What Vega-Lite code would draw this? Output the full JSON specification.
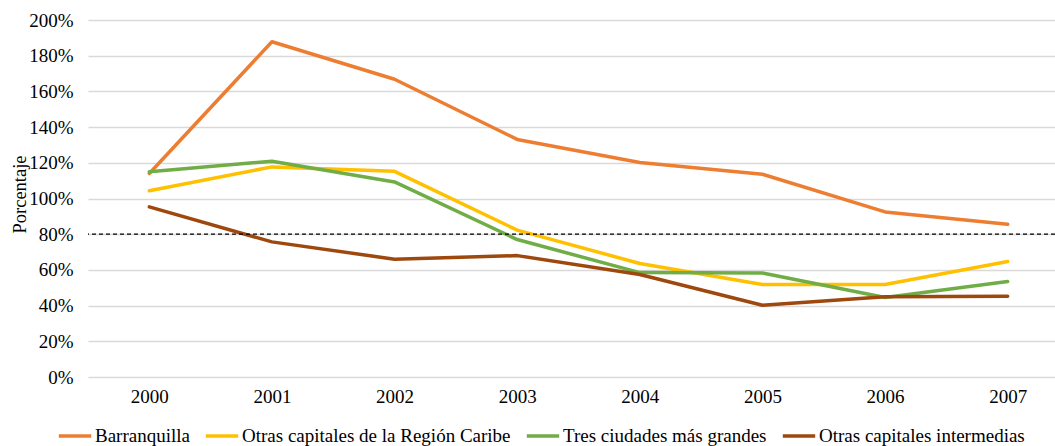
{
  "$schema": "https://vega.github.io/schema/vega-lite/v6.json",
  "autosize": {"type": "none"},
  "padding": {"left": 88, "top": 20, "right": 0, "bottom": 69},
  "width": 981,
  "height": 357,
  "background": "white",
  "config": {
    "view": {"stroke": null},
    "font": "Liberation Serif",
    "axis": {"labelFont": "Liberation Serif", "titleFont": "Liberation Serif", "labelColor": "#000000", "titleColor": "#000000"},
    "legend": {"labelFont": "Liberation Serif", "labelColor": "#000000"}
  },
  "data": {
    "values": [
      {"year": "2000", "serie": "Barranquilla", "value": 1.14},
      {"year": "2001", "serie": "Barranquilla", "value": 1.878},
      {"year": "2002", "serie": "Barranquilla", "value": 1.668},
      {"year": "2003", "serie": "Barranquilla", "value": 1.331},
      {"year": "2004", "serie": "Barranquilla", "value": 1.202},
      {"year": "2005", "serie": "Barranquilla", "value": 1.136},
      {"year": "2006", "serie": "Barranquilla", "value": 0.925},
      {"year": "2007", "serie": "Barranquilla", "value": 0.856},
      {"year": "2000", "serie": "Otras capitales de la Región Caribe", "value": 1.043},
      {"year": "2001", "serie": "Otras capitales de la Región Caribe", "value": 1.177},
      {"year": "2002", "serie": "Otras capitales de la Región Caribe", "value": 1.152},
      {"year": "2003", "serie": "Otras capitales de la Región Caribe", "value": 0.823},
      {"year": "2004", "serie": "Otras capitales de la Región Caribe", "value": 0.636},
      {"year": "2005", "serie": "Otras capitales de la Región Caribe", "value": 0.518},
      {"year": "2006", "serie": "Otras capitales de la Región Caribe", "value": 0.518},
      {"year": "2007", "serie": "Otras capitales de la Región Caribe", "value": 0.647},
      {"year": "2000", "serie": "Tres ciudades más grandes", "value": 1.15},
      {"year": "2001", "serie": "Tres ciudades más grandes", "value": 1.209},
      {"year": "2002", "serie": "Tres ciudades más grandes", "value": 1.093},
      {"year": "2003", "serie": "Tres ciudades más grandes", "value": 0.77},
      {"year": "2004", "serie": "Tres ciudades más grandes", "value": 0.585},
      {"year": "2005", "serie": "Tres ciudades más grandes", "value": 0.583},
      {"year": "2006", "serie": "Tres ciudades más grandes", "value": 0.445},
      {"year": "2007", "serie": "Tres ciudades más grandes", "value": 0.535},
      {"year": "2000", "serie": "Otras capitales intermedias", "value": 0.953},
      {"year": "2001", "serie": "Otras capitales intermedias", "value": 0.757},
      {"year": "2002", "serie": "Otras capitales intermedias", "value": 0.66},
      {"year": "2003", "serie": "Otras capitales intermedias", "value": 0.68},
      {"year": "2004", "serie": "Otras capitales intermedias", "value": 0.574},
      {"year": "2005", "serie": "Otras capitales intermedias", "value": 0.402},
      {"year": "2006", "serie": "Otras capitales intermedias", "value": 0.449},
      {"year": "2007", "serie": "Otras capitales intermedias", "value": 0.452}
    ]
  },
  "layer": [
    {
      "mark": {"type": "line", "strokeWidth": 3.5, "strokeCap": "round", "strokeJoin": "round"},
      "encoding": {
        "x": {
          "field": "year", "type": "ordinal", "title": null,
          "scale": {"type": "point", "padding": 0.5},
          "axis": {"labelAngle": 0, "labelFontSize": 19, "ticks": false, "domain": false, "grid": false, "labelPadding": 10, "labelOverlap": false}
        },
        "y": {
          "field": "value", "type": "quantitative", "title": "Porcentaje",
          "scale": {"domain": [0, 2], "nice": false},
          "axis": {
            "tickCount": 10,
            "format": ".0%", "labelFontSize": 19, "labelOverlap": false, "ticks": false, "domain": false,
            "labelPadding": 15, "gridColor": "#D9D9D9", "gridWidth": 1.3,
            "titleFontSize": 18.5, "titleFontWeight": "normal",
            "titleX": -69, "titleY": 174, "titleAlign": "center", "titleBaseline": "middle", "titleAngle": -90
          }
        },
        "color": {
          "field": "serie", "type": "nominal",
          "scale": {
            "domain": ["Barranquilla", "Otras capitales de la Región Caribe", "Tres ciudades más grandes", "Otras capitales intermedias"],
            "range": ["#ED7D31", "#FFC000", "#70AD47", "#9E480E"]
          },
          "legend": {
            "title": null, "orient": "none", "direction": "horizontal",
            "legendX": -31, "legendY": 398,
            "symbolType": "stroke", "symbolSize": 1050, "symbolStrokeWidth": 3.5, "symbolOpacity": 1,
            "labelFontSize": 19, "labelOffset": 2, "columnPadding": 8, "labelLimit": 400
          }
        }
      }
    },
    {
      "data": {"values": [{"ref": 0.8}]},
      "mark": {"type": "rule", "color": "#000000", "strokeWidth": 1.3, "strokeDash": [4, 3]},
      "encoding": {"y": {"field": "ref", "type": "quantitative"}}
    }
  ]
}
